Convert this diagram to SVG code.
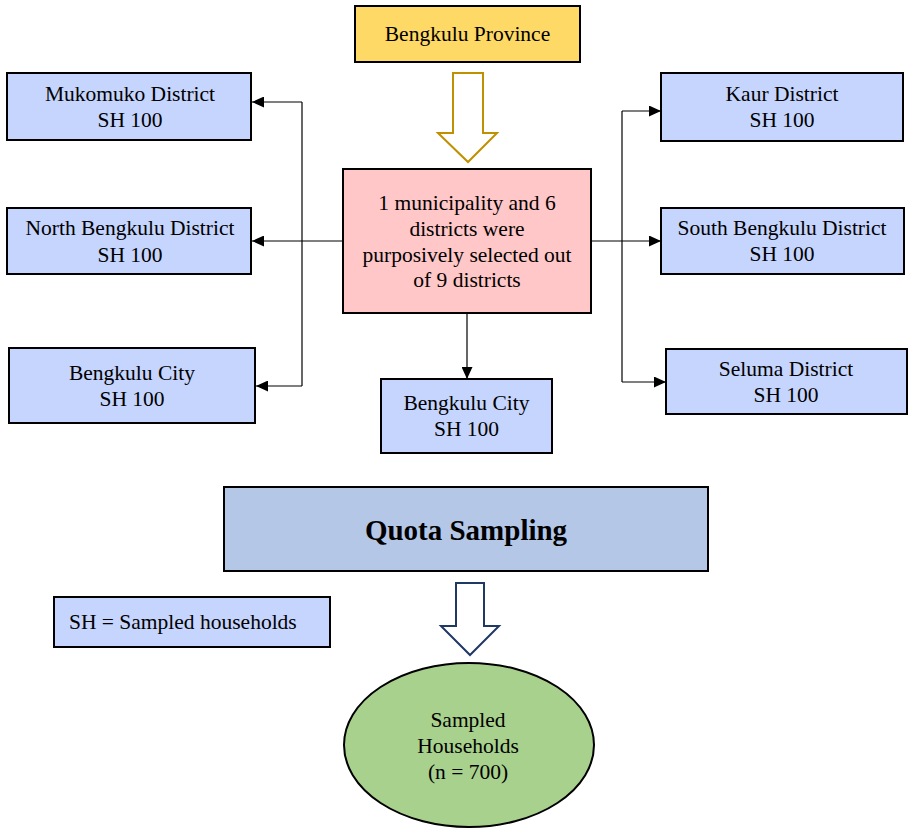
<svg xmlns="http://www.w3.org/2000/svg" width="914" height="833" viewBox="0 0 914 833">
<style>
text{font-family:"Liberation Serif","Times New Roman",serif;font-size:21.5px;fill:#000;text-anchor:middle}
.box{stroke:#000;stroke-width:2}
.blue{fill:#C6D5FE}
.conn{fill:none;stroke:#000;stroke-width:1.2}
</style>
<defs>
<marker id="ah" markerUnits="userSpaceOnUse" markerWidth="13" markerHeight="11" refX="12" refY="5.5" orient="auto">
<path d="M0,0 L12,5.5 L0,11 Z" fill="#000"/>
</marker>
</defs>
<rect width="914" height="833" fill="#fff"/>
<g id="connectors">
<path class="conn" d="M343,241 H252" marker-end="url(#ah)"/>
<path class="conn" d="M302,102 V386"/>
<path class="conn" d="M302,102 H252" marker-end="url(#ah)"/>
<path class="conn" d="M302,386 H256" marker-end="url(#ah)"/>
<path class="conn" d="M591,241 H661" marker-end="url(#ah)"/>
<path class="conn" d="M622,111 V382"/>
<path class="conn" d="M622,111 H661" marker-end="url(#ah)"/>
<path class="conn" d="M622,382 H666" marker-end="url(#ah)"/>
<path class="conn" d="M467,313 V379" marker-end="url(#ah)"/>
<path id="arrow-gold" d="M453,73 H483 V133 H497 L468,162 L438,133 H453 Z" fill="#fff" stroke="#BF9000" stroke-width="2"/>
<path id="arrow-navy" d="M456,583 H484 V626 H499 L470,655 L441,626 H456 Z" fill="#fff" stroke="#1F3864" stroke-width="2"/>
</g>
<g id="province">
<rect class="box" x="355" y="6" width="225" height="56" fill="#FFD966"/>
<text x="467.5" y="41">Bengkulu Province</text>
</g>
<g id="selection">
<rect class="box" x="343" y="169" width="248" height="144" fill="#FFC7C7"/>
<text x="467" y="210">1 municipality and 6</text>
<text x="467" y="236">districts were</text>
<text x="467" y="262">purposively selected out</text>
<text x="467" y="287">of 9 districts</text>
</g>
<g id="mukomuko">
<rect class="box blue" x="7" y="73" width="244" height="67"/>
<text x="130" y="101">Mukomuko District</text>
<text x="130" y="127">SH 100</text>
</g>
<g id="north-bengkulu">
<rect class="box blue" x="7" y="208" width="244" height="66"/>
<text x="130" y="235">North Bengkulu District</text>
<text x="130" y="262">SH 100</text>
</g>
<g id="bengkulu-city-left">
<rect class="box blue" x="9" y="348" width="246" height="75"/>
<text x="132" y="380">Bengkulu City</text>
<text x="132" y="406">SH 100</text>
</g>
<g id="kaur">
<rect class="box blue" x="661" y="73" width="242" height="68"/>
<text x="782" y="101">Kaur District</text>
<text x="782" y="127">SH 100</text>
</g>
<g id="south-bengkulu">
<rect class="box blue" x="661" y="208" width="243" height="66"/>
<text x="782" y="235">South Bengkulu District</text>
<text x="782" y="261">SH 100</text>
</g>
<g id="seluma">
<rect class="box blue" x="666" y="349" width="241" height="65"/>
<text x="786" y="376">Seluma District</text>
<text x="786" y="402">SH 100</text>
</g>
<g id="bengkulu-city-center">
<rect class="box blue" x="381" y="379" width="171" height="74"/>
<text x="466.5" y="410">Bengkulu City</text>
<text x="466.5" y="436">SH 100</text>
</g>
<g id="quota">
<rect class="box" x="224" y="487" width="484" height="84" fill="#B4C7E7"/>
<text x="466" y="540" style="font-size:29px;font-weight:bold">Quota Sampling</text>
</g>
<g id="legend">
<rect class="box blue" x="54" y="597" width="276" height="50"/>
<text x="69" y="629" style="text-anchor:start">SH = Sampled households</text>
</g>
<g id="sampled">
<ellipse cx="469" cy="745" rx="125" ry="82" fill="#A9D18E" stroke="#000" stroke-width="2"/>
<text x="468" y="727">Sampled</text>
<text x="468" y="753">Households</text>
<text x="468" y="779">(n = 700)</text>
</g>
</svg>
